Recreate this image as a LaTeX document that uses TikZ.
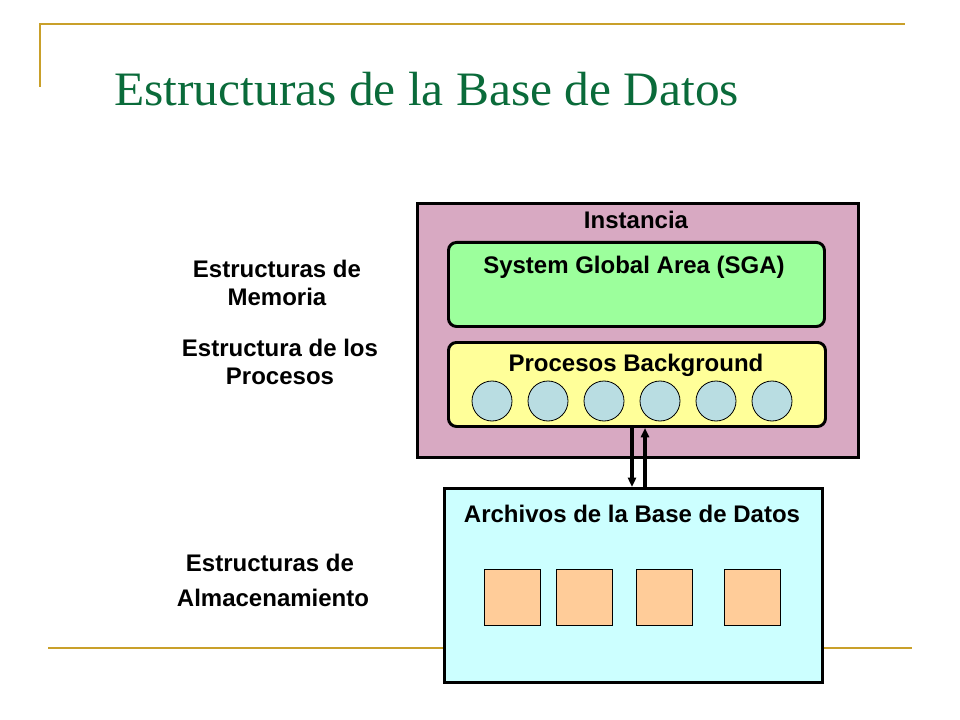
\documentclass[tikz,border=0pt]{standalone}
\usepackage{fontspec}
\setmainfont{Liberation Sans}
\newfontfamily\titlefont{Liberation Serif}
\usetikzlibrary{arrows.meta}
\definecolor{gold}{HTML}{C9A02A}
\definecolor{titlegreen}{HTML}{0A6B3A}
\definecolor{instfill}{HTML}{D8A9C2}
\definecolor{sgafill}{HTML}{9CFF9C}
\definecolor{bgfill}{HTML}{FFFF99}
\definecolor{circfill}{HTML}{B9DDE2}
\definecolor{filefill}{HTML}{CCFFFF}
\definecolor{sqfill}{HTML}{FFCC99}
\begin{document}
\begin{tikzpicture}[x=0.75pt,y=-0.75pt,
  lbl/.style={font=\fontsize{18}{21.6}\selectfont\bfseries, align=center, inner sep=0pt},
  bigbox/.style={draw=black, line width=2.4pt},
  roundbox/.style={draw=black, line width=2.2pt, rounded corners=6pt},
  proc/.style={circle, draw=black, line width=0.6pt, fill=circfill, minimum size=30pt, inner sep=0pt},
  filesq/.style={rectangle, draw=black, line width=0.6pt, fill=sqfill, minimum size=42pt, inner sep=0pt},
  goldline/.style={draw=gold, line width=1.6pt},
  link/.style={draw=black, line width=2.4pt, -{Triangle[length=7pt,width=6pt]}}]
\useasboundingbox (0,0) rectangle (960,720);
\fill[white] (0,0) rectangle (960,720);
% decorative lines
\coordinate (g1) at (40,87);
\coordinate (g2) at (40,24);
\coordinate (g3) at (905,24);
\coordinate (g4) at (48,648);
\coordinate (g5) at (912,648);
\draw[goldline] (g1) -- (g2) -- (g3);
\draw[goldline] (g4) -- (g5);
% title
\node[anchor=base west, inner sep=0pt, text=titlegreen, font=\titlefont\fontsize{36}{40}\selectfont] (title) at (114,106) {\scalebox{1.03}[1]{Estructuras de la Base de Datos}};
% instance
\node[bigbox, fill=instfill, minimum width=330.75pt, minimum height=190.5pt, anchor=north west, inner sep=0pt] (inst) at (416,202) {};
\node[lbl, anchor=base] (insttxt) at (636,229) {Instancia};
\node[roundbox, fill=sgafill, minimum width=282pt, minimum height=63pt, anchor=north west, inner sep=0pt] (sga) at (447,241) {};
\node[lbl, anchor=base] (sgatxt) at (634,274) {System Global Area (SGA)};
\node[roundbox, fill=bgfill, minimum width=282.75pt, minimum height=63pt, anchor=north west, inner sep=0pt] (bg) at (447,341) {};
\node[lbl, anchor=base] (bgtxt) at (636,371) {Procesos Background};
\node[proc] (p1) at (492,401) {};
\node[proc] (p2) at (548,401) {};
\node[proc] (p3) at (604,401) {};
\node[proc] (p4) at (660,401) {};
\node[proc] (p5) at (716,401) {};
\node[proc] (p6) at (772,401) {};
% files
\node[bigbox, fill=filefill, minimum width=283.5pt, minimum height=145.5pt, anchor=north west, inner sep=0pt] (files) at (443,487) {};
\node[lbl, anchor=base] (filestxt) at (632,522) {Archivos de la Base de Datos};
\node[filesq] (f1) at (512,597) {};
\node[filesq] (f2) at (584,597) {};
\node[filesq] (f3) at (664,597) {};
\node[filesq] (f4) at (752,597) {};
% arrows
\draw[link] (bg.south -| 632,0) -- (files.north -| 632,0);
\draw[link] (files.north -| 645,0) -- (bg.south -| 645,0);
% left labels
\node[lbl] (mem) at (277,283) {Estructuras de\\Memoria};
\node[lbl] (procs) at (280,362) {Estructura de los\\Procesos};
\node[lbl, anchor=base] (alm1) at (270,571) {Estructuras de};
\node[lbl, anchor=base] (alm2) at (273,606) {Almacenamiento};
\end{tikzpicture}
\end{document}
